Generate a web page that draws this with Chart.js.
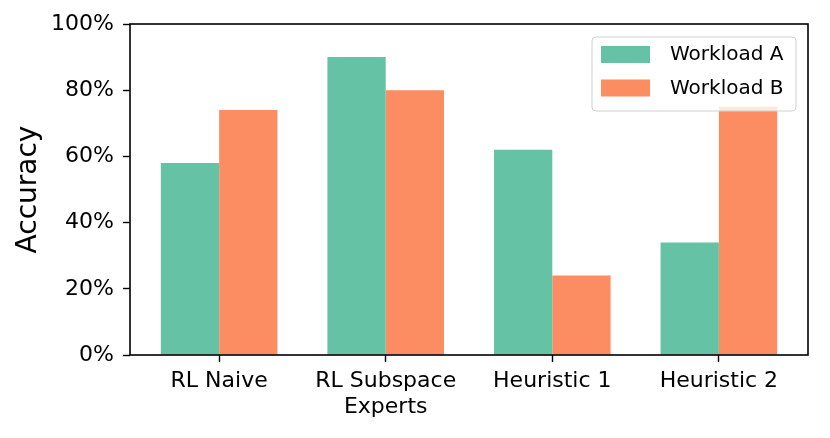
<!DOCTYPE html>
<html>
<head>
<meta charset="utf-8">
<script src="https://cdn.jsdelivr.net/npm/chart.js@4.4.1/dist/chart.umd.min.js"></script>
<style>
  html, body { margin: 0; padding: 0; background: #fff; }
  #wrap { width: 830px; height: 438px; }
</style>
</head>
<body>
<div id="wrap"><canvas id="c" width="830" height="438"></canvas></div>
<script>
const categories = [["RL Naive"], ["RL Subspace", "Experts"], ["Heuristic 1"], ["Heuristic 2"]];
const seriesNames = ["Workload A", "Workload B"];
const workloadA = [58, 90, 62, 34];
const workloadB = [74, 80, 24, 75];
const yTicks = [0, 20, 40, 60, 80, 100];

const FONT = "'DejaVu Sans'";
const colA = "#66c2a5";
const colB = "#fc8d62";

const toPoints = arr => arr.map((v, i) => ({ x: i, y: v }));

const framePlugin = {
  id: "frame",
  afterDatasetsDraw(chart) {
    const { ctx, chartArea: a } = chart;
    ctx.save();
    ctx.strokeStyle = "#000";
    ctx.lineWidth = 1.6;
    ctx.strokeRect(a.left, a.top, a.right - a.left, a.bottom - a.top);
    ctx.restore();
  }
};

const legendPlugin = {
  id: "insideLegend",
  afterDraw(chart) {
    const { ctx } = chart;
    const x0 = 592, y0 = 37, w = 204, h = 74;
    ctx.save();
    ctx.beginPath();
    if (ctx.roundRect) ctx.roundRect(x0, y0, w, h, 4); else ctx.rect(x0, y0, w, h);
    ctx.fillStyle = "rgba(255,255,255,0.8)";
    ctx.fill();
    ctx.strokeStyle = "#d0d0d0";
    ctx.lineWidth = 1;
    ctx.stroke();
    chart.data.datasets.forEach((ds, i) => {
      const ry = 46 + i * 33.5;
      ctx.fillStyle = ds.backgroundColor;
      ctx.fillRect(601, ry, 49, 17);
      ctx.fillStyle = "#000";
      ctx.font = "20px " + FONT;
      ctx.textBaseline = "middle";
      ctx.textAlign = "left";
      ctx.fillText(ds.label, 670, ry + 9);
    });
    ctx.restore();
  }
};

new Chart(document.getElementById("c"), {
  type: "bar",
  data: {
    datasets: [
      { label: seriesNames[0], data: toPoints(workloadA), backgroundColor: colA, borderWidth: 0 },
      { label: seriesNames[1], data: toPoints(workloadB), backgroundColor: colB, borderWidth: 0 }
    ]
  },
  options: {
    responsive: false,
    animation: false,
    devicePixelRatio: 1,
    layout: { padding: { left: 0, right: 22, top: 24, bottom: 0 } },
    datasets: { bar: { categoryPercentage: 0.7, barPercentage: 1.0 } },
    plugins: { legend: { display: false }, tooltip: { enabled: false } },
    scales: {
      x: {
        type: "linear",
        min: -0.535,
        max: 3.535,
        offset: false,
        afterFit(scale) { scale.height = 83; },
        grid: { offset: false, drawOnChartArea: false, drawTicks: true, tickLength: 7, tickColor: "#000", tickWidth: 1.4 },
        border: { display: false },
        ticks: {
          stepSize: 1,
          includeBounds: false,
          color: "#000",
          font: { family: FONT, size: 22 },
          padding: 6,
          maxRotation: 0,
          autoSkip: false,
          callback: (v) => (Number.isInteger(v) && categories[v]) ? categories[v] : null
        }
      },
      y: {
        min: 0,
        max: 100,
        afterBuildTicks(scale) { scale.ticks = yTicks.map(v => ({ value: v })); },
        afterFit(scale) { scale.width = 130; },
        grid: { drawOnChartArea: false, drawTicks: true, tickLength: 7, tickColor: "#000", tickWidth: 1.4 },
        border: { display: false },
        title: { display: true, text: "Accuracy", color: "#000", font: { family: FONT, size: 28 }, padding: { top: 12, bottom: 0 } },
        ticks: {
          color: "#000",
          font: { family: FONT, size: 22 },
          padding: 9,
          callback: (v) => v + "%"
        }
      }
    }
  },
  plugins: [framePlugin, legendPlugin]
});
</script>
</body>
</html>
